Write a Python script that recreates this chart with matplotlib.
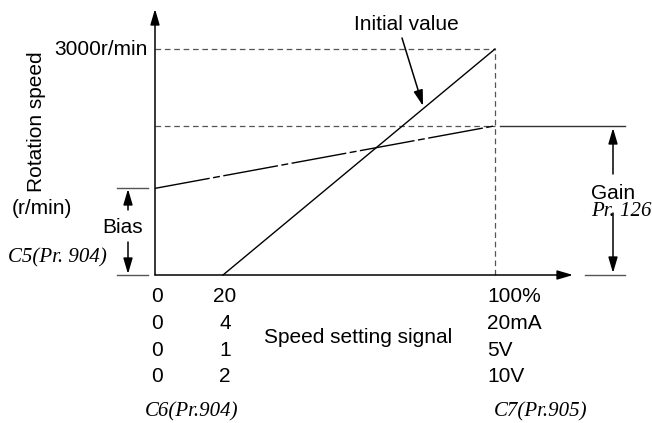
import matplotlib.pyplot as plt

# values (x: % of speed setting signal, y: r/min)
initial_pct = [20, 100]
initial_speed = [0, 3000]
adjusted_pct = [0, 100]
adjusted_speed = [1150, 1980]
max_speed = 3000
bias_speed = 1150
gain_speed = 1980

col_zero = ["0", "0", "0", "0"]
col_low = ["20", "4", "1", "2"]
col_high = ["100%", "20mA", "5V", "10V"]

W, H = 652, 423
fig = plt.figure(figsize=(W / 100, H / 100), dpi=100)
ax = fig.add_axes([0, 0, 1, 1])
# origin of the plot sits at pixel (155, 275); 100% at 495 px, 3000 r/min at 49 px
sx = 3.4
sy = 226 / 3000
ax.set_xlim(-155 / sx, (W - 155) / sx)
ax.set_ylim(-(H - 275) / sy, 275 / sy)
ax.axis("off")

def px(x, y):
    # pixel (from top-left) -> figure fraction, for text / decorations
    return (x / W, 1 - y / H)

def dx(x):
    return (x - 155) / sx

def dy(y):
    return (275 - y) / sy

sans = "Liberation Sans"
serif = "Liberation Serif"
grey = "#555555"
arrow = dict(arrowstyle="-|>,head_length=0.95,head_width=0.28", color="black", lw=1.1,
             shrinkA=0, shrinkB=0)

# axes with arrow heads
ax.annotate("", xy=(dx(573), 0), xytext=(0, 0), arrowprops=arrow)
ax.annotate("", xy=(0, dy(9)), xytext=(0, 0), arrowprops=arrow)

# guide lines
dash = (0, (4.5, 3))
ax.plot([0, 100], [max_speed, max_speed], color=grey, lw=0.9, ls=dash)
ax.plot([0, 100], [gain_speed, gain_speed], color=grey, lw=0.9, ls=dash)
ax.plot([100, 100], [0, max_speed], color=grey, lw=0.9, ls=dash)

# characteristic lines
ax.plot(initial_pct, initial_speed, color="black", lw=1.0)
ax.plot(adjusted_pct, adjusted_speed, color="black", lw=1.0, ls=(0, (40, 2.5, 5, 2.5)))

# bias marker
ax.plot([dx(117), dx(148)], [bias_speed, bias_speed], color=grey, lw=1.0)
ax.plot([dx(117), dx(148)], [0, 0], color=grey, lw=1.0)
ax.annotate("", xy=(dx(128), dy(189)), xytext=(dx(128), dy(210)), arrowprops=arrow)
ax.annotate("", xy=(dx(128), dy(274)), xytext=(dx(128), dy(242)), arrowprops=arrow)

# gain marker
ax.plot([dx(500), dx(625)], [gain_speed, gain_speed], color="#333333", lw=1.0)
ax.plot([dx(585), dx(625)], [0, 0], color=grey, lw=1.0)
ax.annotate("", xy=(dx(613), dy(128)), xytext=(dx(613), dy(174)), arrowprops=arrow)
ax.annotate("", xy=(dx(613), dy(273)), xytext=(dx(613), dy(213)), arrowprops=arrow)

# initial value pointer
ax.annotate("", xy=(dx(423), dy(106)), xytext=(dx(402), dy(38)), arrowprops=arrow)

fs = 15
tf = fig.transFigure
fig.text(*px(406, 24), "Initial value", ha="center", va="center", fontsize=fs, family=sans, transform=tf)
fig.text(*px(148, 49), "3000r/min", ha="right", va="center", fontsize=fs, family=sans, transform=tf)
fig.text(*px(36, 122), "Rotation speed", ha="center", va="center", rotation=90, fontsize=fs,
         family=sans, transform=tf)
fig.text(*px(42, 209), "(r/min)", ha="center", va="center", fontsize=fs, family=sans, transform=tf)
fig.text(*px(123, 227), "Bias", ha="center", va="center", fontsize=fs, family=sans, transform=tf)
fig.text(*px(57, 258), "C5(Pr. 904)", ha="center", va="center", fontsize=fs, family=serif,
         style="italic", transform=tf)
fig.text(*px(613, 193), "Gain", ha="center", va="center", fontsize=fs, family=sans, transform=tf)
fig.text(*px(591, 211), "Pr. 126", ha="left", va="center", fontsize=fs, family=serif,
         style="italic", transform=tf)

rows = [296, 323, 350, 376]
for y, a, b, c in zip(rows, col_zero, col_low, col_high):
    fig.text(*px(157, y), a, ha="center", va="center", fontsize=fs, family=sans, transform=tf)
    fig.text(*px(225, y), b, ha="center", va="center", fontsize=fs, family=sans, transform=tf)
    fig.text(*px(487, y), c, ha="left", va="center", fontsize=fs, family=sans, transform=tf)

fig.text(*px(358, 337), "Speed setting signal", ha="center", va="center", fontsize=fs,
         family=sans, transform=tf)
fig.text(*px(192, 412), "C6(Pr.904)", ha="center", va="center", fontsize=fs, family=serif,
         style="italic", transform=tf)
fig.text(*px(541, 412), "C7(Pr.905)", ha="center", va="center", fontsize=fs, family=serif,
         style="italic", transform=tf)

fig.savefig("out.png", dpi=100)
